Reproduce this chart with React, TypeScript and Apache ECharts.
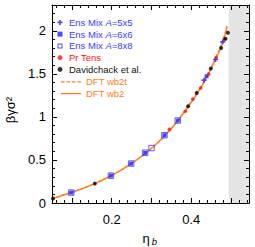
import React, { useEffect, useRef } from 'react';
import * as echarts from 'echarts';

// ---- data ----
const etaEnsMix5 = [0.432, 0.461, 0.479];
const gammaEnsMix5 = [1.427, 1.667, 1.872];

const etaEnsMix6 = [0.0985, 0.198, 0.249, 0.284, 0.3325, 0.366, 0.4385];
const gammaEnsMix6 = [0.121, 0.318, 0.458, 0.583, 0.787, 0.958, 1.473];

const etaEnsMix8 = [0.0985, 0.198, 0.249, 0.284, 0.3, 0.3325, 0.366];
const gammaEnsMix8 = [0.121, 0.318, 0.458, 0.583, 0.638, 0.787, 0.958];

const etaPrTens = [0.345, 0.385, 0.404, 0.4235, 0.4435, 0.4625, 0.4835];
const gammaPrTens = [0.855, 1.066, 1.206, 1.336, 1.497, 1.69, 1.905];

const etaDavidchack = [0.0525, 0.1575, 0.392, 0.4135, 0.449, 0.475, 0.486, 0.492];
const gammaDavidchack = [0.052, 0.225, 1.124, 1.279, 1.563, 1.8, 1.907, 1.977];

const etaDFT = [0.05, 0.1, 0.15, 0.2, 0.25, 0.3, 0.35, 0.4, 0.42, 0.44, 0.46, 0.47, 0.48, 0.49];
const gammaWb2 = [0.05, 0.125, 0.21, 0.32, 0.46, 0.635, 0.865, 1.17, 1.31, 1.47, 1.66, 1.76, 1.88, 2.04];
const gammaWb2t = [0.05, 0.126, 0.212, 0.322, 0.462, 0.638, 0.87, 1.178, 1.32, 1.48, 1.675, 1.78, 1.9, 2.07];

const freezingEta = 0.494;

const X_MIN = 0.05;
const X_MAX = 0.545;
const Y_MIN = 0;
const Y_MAX = 2.3;

const xLabels = [0.2, 0.4];
const xMajorTicks = [0.1, 0.2, 0.3, 0.4, 0.5];
const xMinorTicks = [0.06, 0.08, 0.1, 0.12, 0.14, 0.16, 0.18, 0.2, 0.22, 0.24, 0.26, 0.28, 0.3, 0.32, 0.34, 0.36, 0.38, 0.4, 0.42, 0.44, 0.46, 0.48, 0.5, 0.52, 0.54];
const yLabels = [0, 0.5, 1, 1.5, 2];
const yMajorTicks = [0, 0.5, 1, 1.5, 2];
const yMinorTicks = [0.1, 0.2, 0.3, 0.4, 0.5, 0.6, 0.7, 0.8, 0.9, 1, 1.1, 1.2, 1.3, 1.4, 1.5, 1.6, 1.7, 1.8, 1.9, 2, 2.1, 2.2];

const NAMES = {
  m5: 'Ens Mix A=5x5',
  m6: 'Ens Mix A=6x6',
  m8: 'Ens Mix A=8x8',
  pr: 'Pr Tens',
  dv: 'Davidchack et al.',
  wb2t: 'DFT wb2t',
  wb2: 'DFT wb2',
};

const FONT = "'Liberation Sans', Arial, Helvetica, sans-serif";
const BLUE = '#2020ff';
const BLUE_TEXT = '#3c3cff';
const RED = '#ff1010';
const ORANGE = '#ff7f27';

const PLUS = 'path://M-1,-3H1V-1H3V1H1V3H-1V1H-3V-1H-1Z';
const ICON_SQUARE = 'path://M0,0H10V10H0Z';
const ICON_OPEN_SQUARE = 'path://M0,0H10V10H0Z M2,2V8H8V2Z';
const ICON_SOLID = 'path://M0,0H20V1.4H0Z';
const ICON_DASHED = 'path://M0,0H3.5V1.4H0Z M5.5,0H9V1.4H5.5Z M11,0H14.5V1.4H11Z M16.5,0H20V1.4H16.5Z';

const zip = (xs: number[], ys: number[]) => xs.map((x, i) => [x, ys[i]]);

function xAxisDef(position: 'top' | 'bottom', ticks: number[], len: number, showLine: boolean, labels?: number[]) {
  return {
    type: 'value',
    min: X_MIN,
    max: X_MAX,
    position,
    z: 10,
    splitLine: { show: false },
    axisLine: { show: showLine, onZero: false, lineStyle: { color: '#000', width: 1 } },
    axisTick: { show: true, inside: true, length: len, customValues: ticks, lineStyle: { color: '#000', width: 1 } },
    axisLabel: labels
      ? { show: true, customValues: labels, fontSize: 13, color: '#000', margin: 10, fontFamily: FONT }
      : { show: false },
  };
}

function yAxisDef(position: 'left' | 'right', ticks: number[], len: number, showLine: boolean, labels?: number[]) {
  return {
    type: 'value',
    min: Y_MIN,
    max: Y_MAX,
    position,
    z: 10,
    splitLine: { show: false },
    axisLine: { show: showLine, onZero: false, lineStyle: { color: '#000', width: 1 } },
    axisTick: { show: true, inside: true, length: len, customValues: ticks, lineStyle: { color: '#000', width: 1 } },
    axisLabel: labels
      ? { show: true, customValues: labels, fontSize: 13, color: '#000', margin: 6, fontFamily: FONT }
      : { show: false },
  };
}

export default function App() {
  const ref = useRef<HTMLDivElement>(null);

  useEffect(() => {
    if (!ref.current) return;
    const chart = echarts.init(ref.current, undefined, { renderer: 'svg' });
    const legendFormatter = (name: string) => name.replace('A=', '{i|A}=');
    chart.setOption({
      animation: false,
      backgroundColor: '#fff',
      grid: { left: 52, right: 6, top: 5, bottom: 44, containLabel: false },
      xAxis: [
        xAxisDef('bottom', xMinorTicks, 3, true, xLabels),
        xAxisDef('bottom', xMajorTicks, 5, false),
        xAxisDef('top', xMinorTicks, 3, true),
        xAxisDef('top', xMajorTicks, 5, false),
      ],
      yAxis: [
        yAxisDef('left', yMinorTicks, 3, true, yLabels),
        yAxisDef('left', yMajorTicks, 5, false),
        yAxisDef('right', yMinorTicks, 3, true),
        yAxisDef('right', yMajorTicks, 5, false),
      ],
      legend: [
        {
          orient: 'vertical',
          left: 57.5,
          top: 16.5,
          padding: 0,
          itemWidth: 8,
          itemHeight: 5,
          itemGap: 0,
          selectedMode: false,
          formatter: legendFormatter,
          textStyle: {
            fontSize: 9.5,
            lineHeight: 11.75,
            fontFamily: FONT,
            rich: { i: { fontStyle: 'italic', fontSize: 9.5, fontFamily: FONT, lineHeight: 11.75 } },
          },
          data: [
            { name: NAMES.m5, icon: PLUS, textStyle: { color: BLUE_TEXT } },
            { name: NAMES.m6, icon: ICON_SQUARE, itemHeight: 4, textStyle: { color: BLUE_TEXT } },
            { name: NAMES.m8, icon: ICON_OPEN_SQUARE, itemStyle: { color: BLUE, borderWidth: 0 }, textStyle: { color: BLUE_TEXT } },
            { name: NAMES.pr, textStyle: { color: RED } },
            { name: NAMES.dv, textStyle: { color: '#111' } },
          ],
        },
        {
          orient: 'vertical',
          left: 61,
          top: 76,
          padding: 0,
          itemWidth: 20,
          itemHeight: 6,
          itemGap: 0,
          selectedMode: false,
          textStyle: { fontSize: 9.5, lineHeight: 11.75, fontFamily: FONT },
          data: [
            { name: NAMES.wb2t, icon: ICON_DASHED, itemStyle: { color: ORANGE }, textStyle: { color: ORANGE } },
            { name: NAMES.wb2, icon: ICON_SOLID, itemStyle: { color: ORANGE }, textStyle: { color: ORANGE } },
          ],
        },
      ],
      series: [
        {
          name: NAMES.wb2,
          type: 'line',
          data: zip(etaDFT, gammaWb2),
          smooth: true,
          showSymbol: false,
          symbol: 'none',
          lineStyle: { color: ORANGE, width: 1.4 },
          itemStyle: { color: ORANGE },
          z: 2,
          markArea: {
            silent: true,
            itemStyle: { color: '#e5e5e5' },
            data: [[{ xAxis: freezingEta }, { xAxis: X_MAX }]],
          },
        },
        {
          name: NAMES.wb2t,
          type: 'line',
          data: zip(etaDFT, gammaWb2t),
          smooth: true,
          showSymbol: false,
          symbol: 'none',
          lineStyle: { color: ORANGE, width: 1.3, type: [3, 2] },
          itemStyle: { color: ORANGE },
          z: 2,
        },
        {
          name: NAMES.m8,
          type: 'scatter',
          data: zip(etaEnsMix8, gammaEnsMix8),
          symbol: 'rect',
          symbolSize: 5.5,
          itemStyle: { color: 'rgba(0,0,0,0)', borderColor: '#3a3aff', borderWidth: 1 },
          z: 3,
        },
        {
          name: NAMES.m6,
          type: 'scatter',
          data: zip(etaEnsMix6, gammaEnsMix6),
          symbol: 'rect',
          symbolSize: 4,
          itemStyle: { color: BLUE },
          z: 4,
        },
        {
          name: NAMES.m5,
          type: 'scatter',
          data: zip(etaEnsMix5, gammaEnsMix5),
          symbol: PLUS,
          symbolSize: 5,
          itemStyle: { color: BLUE },
          z: 4,
        },
        {
          name: NAMES.pr,
          type: 'scatter',
          data: zip(etaPrTens, gammaPrTens),
          symbol: 'circle',
          symbolSize: 3.6,
          itemStyle: { color: RED },
          z: 5,
        },
        {
          name: NAMES.dv,
          type: 'scatter',
          data: zip(etaDavidchack, gammaDavidchack),
          symbol: 'circle',
          symbolSize: 4,
          itemStyle: { color: '#000' },
          z: 5,
        },
      ],
      graphic: [
        {
          type: 'text',
          x: 10,
          y: 110,
          rotation: Math.PI / 2,
          style: { text: 'βγσ²', fontSize: 13, fill: '#000', align: 'center', verticalAlign: 'middle', fontFamily: FONT },
        },
        {
          type: 'text',
          x: 146,
          y: 238,
          style: { text: 'η', fontSize: 13, fill: '#000', align: 'center', verticalAlign: 'middle', fontFamily: FONT },
        },
        {
          type: 'text',
          x: 154.5,
          y: 241.5,
          style: { text: 'b', fontSize: 9.5, fontStyle: 'italic', fill: '#000', align: 'center', verticalAlign: 'middle', fontFamily: FONT },
        },
      ],
    });
    return () => chart.dispose();
  }, []);

  return <div ref={ref} style={{ width: 255, height: 247, position: 'absolute', left: 0, top: 0 }} />;
}
